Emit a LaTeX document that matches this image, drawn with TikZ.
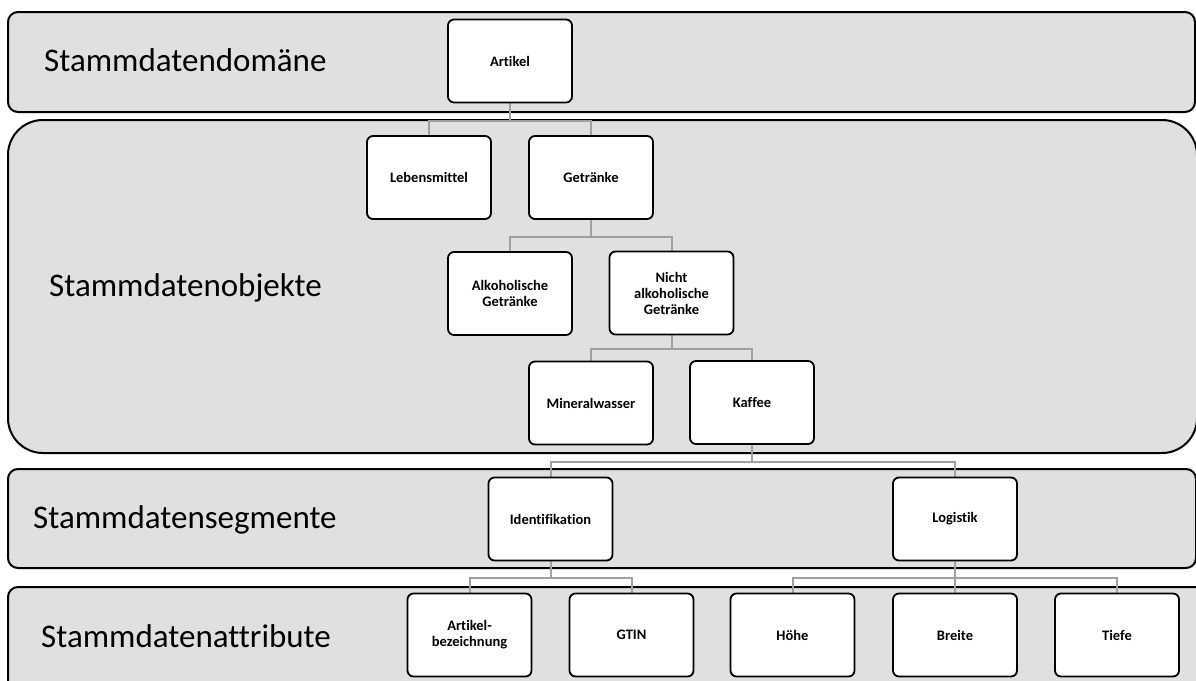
\documentclass[tikz,border=0pt]{standalone}
\usepackage{fontspec}
\setmainfont{Carlito}[Ligatures=NoCommon]
\usetikzlibrary{calc}
\definecolor{bandfill}{HTML}{E0E0E0}
\definecolor{linkgray}{HTML}{A0A0A0}
\pgfdeclarelayer{bands}
\pgfdeclarelayer{links}
\pgfsetlayers{bands,links,main}
\begin{document}
\begin{tikzpicture}[x=1pt,y=-1pt,
  band/.style={draw=black,line width=2pt,fill=bandfill},
  layer/.style={anchor=base west,inner sep=0pt,font=\fontsize{33}{40}\selectfont},
  box/.style={draw=black,line width=1.8pt,fill=white,rounded corners=6pt,
    minimum width=124pt,minimum height=83pt,inner sep=2pt,align=center,
    font=\fontsize{14.5}{16}\selectfont\bfseries},
  conn/.style={draw=linkgray,line width=2pt}]
\useasboundingbox (0,0) rectangle (1196,680);
\clip (0,0) rectangle (1196,680);

% layer bands
\begin{pgfonlayer}{bands}
\draw[band,rounded corners=10pt] (8,12) rectangle (1195,112);
\draw[band,rounded corners=35pt] (8,120) rectangle (1197,453);
\draw[band,rounded corners=10pt] (8,469) rectangle (1196,568);
\draw[band,rounded corners=10pt] (8,587) rectangle (1210,720);
\end{pgfonlayer}

% layer titles
\node[layer] (tdom) at (44,71) {Stammdatendomäne};
\node[layer] (tobj) at (49,296) {Stammdatenobjekte};
\node[layer] (tseg) at (33,528) {Stammdatensegmente};
\node[layer] (tatt) at (41,647) {Stammdatenattribute};

% tree nodes
\node[box] (artikel) at (510,61) {Artikel};
\node[box] (lebens) at (429,177.5) {Lebensmittel};
\node[box] (getr) at (591,177.5) {Getränke};
\node[box] (alk) at (510,293.5) {Alkoholische\\Getränke};
\node[box] (nalk) at (671.5,293) {Nicht\\alkoholische\\Getränke};
\node[box] (mineral) at (591,403) {Mineralwasser};
\node[box] (kaffee) at (752,402.5) {Kaffee};
\node[box] (ident) at (550.5,519) {Identifikation};
\node[box] (logis) at (955,519) {Logistik};
\node[box] (bez) at (469.5,635) {Artikel-\\bezeichnung};
\node[box] (gtin) at (631.5,635) {GTIN};
\node[box] (hoehe) at (792.5,635) {Höhe};
\node[box] (breite) at (955,635) {Breite};
\node[box] (tiefe) at (1117,635) {Tiefe};

% elbow connectors, parent to children (kept under the boxes)
\begin{pgfonlayer}{links}
\path (artikel.south) ++(0,18) coordinate (j1);
\path (getr.south) ++(0,17) coordinate (j2);
\path (nalk.south) ++(0,14) coordinate (j3);
\path (kaffee.south) ++(0,17) coordinate (j4);
\path (ident.south) ++(0,17) coordinate (j5);
\path (logis.south) ++(0,17) coordinate (j6);

\draw[conn] (artikel.center) -- (j1) -| (lebens.center);
\draw[conn] (j1) -| (getr.center);
\draw[conn] (getr.center) -- (j2) -| (alk.center);
\draw[conn] (j2) -| (nalk.center);
\draw[conn] (nalk.center) -- (j3) -| (mineral.center);
\draw[conn] (j3) -| (kaffee.center);
\draw[conn] (kaffee.center) -- (j4) -| (ident.center);
\draw[conn] (j4) -| (logis.center);
\draw[conn] (ident.center) -- (j5) -| (bez.center);
\draw[conn] (j5) -| (gtin.center);
\draw[conn] (logis.center) -- (j6) -| (hoehe.center);
\draw[conn] (j6) -- (breite.center);
\draw[conn] (j6) -| (tiefe.center);
\end{pgfonlayer}
\end{tikzpicture}
\end{document}
